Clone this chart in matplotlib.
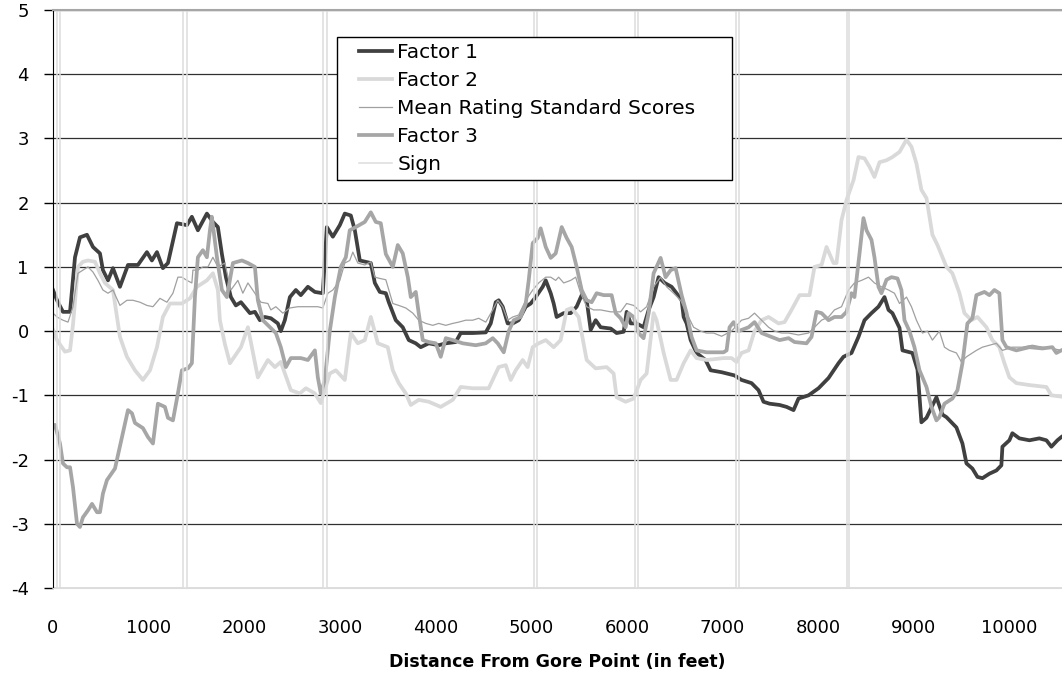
import matplotlib.pyplot as plt
from matplotlib.lines import Line2D
from matplotlib.legend_handler import HandlerLine2D

## Data (distance in feet, standard scores)

f1_x = [0, 42, 104, 178, 230, 282, 355, 418, 491, 522, 575, 627, 700, 784, 888, 982, 1034, 1087,
        1149, 1202, 1296, 1400, 1452, 1515, 1609, 1672, 1724, 1766, 1808, 1860, 1912, 1965, 2059,
        2111, 2163, 2215, 2278, 2351, 2382, 2424, 2477, 2539, 2591, 2665, 2738, 2821, 2863, 2926,
        2999, 3051, 3114, 3156, 3208, 3323, 3365, 3417, 3480, 3511, 3584, 3657, 3720, 3793, 3845,
        3929, 4033, 4107, 4211, 4263, 4389, 4525, 4577, 4629, 4660, 4702, 4754, 4807, 4869, 4943,
        4995, 5047, 5120, 5152, 5204, 5235, 5266, 5340, 5413, 5475, 5528, 5580, 5622, 5674, 5726,
        5831, 5893, 5967, 5998, 6040, 6102, 6175, 6228, 6280, 6332, 6395, 6468, 6520, 6573, 6594,
        6625, 6667, 6729, 6823, 6876, 6991, 7126, 7199, 7304, 7377, 7429, 7492, 7597, 7670, 7743,
        7795, 7900, 8004, 8109, 8213, 8265, 8349, 8422, 8485, 8558, 8631, 8694, 8736, 8777, 8851,
        8882, 8986, 9039, 9080, 9133, 9237, 9300, 9342, 9446, 9509, 9551, 9613, 9666, 9718, 9791,
        9864, 9916, 9927, 10000, 10031, 10104, 10209, 10313, 10387, 10439, 10502, 10543]
f1_y = [0.64, 0.48, 0.3, 0.3, 1.15, 1.46, 1.5, 1.31, 1.21, 0.95, 0.79, 0.98, 0.69, 1.03, 1.03, 1.23,
        1.1, 1.23, 0.98, 1.06, 1.68, 1.65, 1.78, 1.57, 1.83, 1.7, 1.62, 1.2, 0.84, 0.53, 0.4, 0.45,
        0.28, 0.3, 0.17, 0.22, 0.2, 0.12, 0.0, 0.17, 0.53, 0.64, 0.56, 0.69, 0.61, 0.59, 1.62, 1.47,
        1.65, 1.83, 1.8, 1.57, 1.1, 1.06, 0.75, 0.61, 0.59, 0.45, 0.17, 0.06, -0.14, -0.19, -0.25,
        -0.19, -0.22, -0.19, -0.17, -0.03, -0.03, -0.02, 0.12, 0.45, 0.48, 0.38, 0.12, 0.12, 0.17,
        0.38, 0.43, 0.53, 0.69, 0.79, 0.59, 0.43, 0.22, 0.28, 0.28, 0.38, 0.56, 0.48, 0.02, 0.17,
        0.06, 0.04, -0.03, -0.01, 0.3, 0.12, 0.12, 0.06, 0.33, 0.53, 0.84, 0.75, 0.69, 0.59, 0.48,
        0.22, 0.12, -0.14, -0.34, -0.45, -0.61, -0.64, -0.69, -0.76, -0.81, -0.92, -1.1, -1.13,
        -1.15, -1.18, -1.23, -1.05, -1.0, -0.89, -0.73, -0.5, -0.4, -0.34, -0.09, 0.17, 0.28, 0.38,
        0.53, 0.33, 0.28, 0.05, -0.3, -0.34, -0.6, -1.42, -1.35, -1.03, -1.3, -1.34, -1.5, -1.75,
        -2.06, -2.14, -2.27, -2.29, -2.22, -2.17, -2.09, -1.8, -1.7, -1.59, -1.67, -1.7, -1.67,
        -1.7, -1.8, -1.7, -1.65]

f2_x = [0, 42, 125, 178, 209, 261, 313, 366, 439, 491, 543, 627, 700, 773, 857, 940, 1014, 1087,
        1149, 1223, 1348, 1432, 1505, 1609, 1672, 1724, 1745, 1797, 1850, 1965, 2038, 2142, 2247,
        2320, 2382, 2487, 2581, 2644, 2738, 2800, 2894, 2957, 3051, 3114, 3187, 3260, 3323, 3396,
        3500, 3553, 3615, 3689, 3741, 3824, 3929, 4054, 4180, 4263, 4389, 4556, 4660, 4734, 4786,
        4838, 4911, 4963, 5016, 5078, 5152, 5235, 5308, 5371, 5423, 5496, 5580, 5674, 5789, 5862,
        5893, 5987, 6071, 6144, 6207, 6280, 6311, 6385, 6458, 6520, 6594, 6667, 6729, 6834, 7011,
        7095, 7147, 7199, 7273, 7335, 7409, 7482, 7586, 7649, 7722, 7806, 7910, 7962, 8036, 8088,
        8161, 8192, 8245, 8297, 8370, 8422, 8485, 8537, 8589, 8642, 8715, 8777, 8851, 8924, 8976,
        9028, 9080, 9133, 9195, 9248, 9342, 9404, 9478, 9530, 9603, 9666, 9760, 9822, 9895, 9948,
        10000, 10073, 10209, 10387, 10439, 10543]
f2_y = [0.02, -0.14, -0.32, -0.3, 0.1, 1.0, 1.08, 1.1, 1.08, 0.9, 0.75, 0.64, -0.09, -0.4, -0.61,
        -0.76, -0.61, -0.25, 0.22, 0.43, 0.43, 0.51, 0.69, 0.79, 0.9, 0.64, 0.17, -0.2, -0.5, -0.25,
        0.06, -0.72, -0.45, -0.56, -0.48, -0.92, -0.97, -0.89, -0.97, -1.12, -0.66, -0.61, -0.76,
        -0.03, -0.19, -0.14, 0.22, -0.19, -0.25, -0.61, -0.81, -0.97, -1.15, -1.07, -1.1, -1.18,
        -1.07, -0.87, -0.89, -0.89, -0.56, -0.53, -0.76, -0.61, -0.45, -0.56, -0.25, -0.19, -0.14,
        -0.25, -0.14, 0.33, 0.36, 0.22, -0.45, -0.58, -0.56, -0.66, -1.03, -1.1, -1.05, -0.76,
        -0.66, 0.28, 0.17, -0.34, -0.76, -0.76, -0.5, -0.3, -0.42, -0.45, -0.42, -0.42, -0.48,
        -0.34, -0.3, 0.0, 0.17, 0.22, 0.12, 0.14, 0.33, 0.56, 0.56, 1.0, 1.03, 1.31, 1.06, 1.06,
        1.73, 2.04, 2.35, 2.71, 2.69, 2.56, 2.4, 2.63, 2.66, 2.71, 2.79, 2.98, 2.87, 2.61, 2.2, 2.07,
        1.5, 1.34, 1.0, 0.9, 0.59, 0.28, 0.17, 0.22, 0.06, -0.14, -0.25, -0.5, -0.72, -0.81, -0.84,
        -0.87, -1.0, -1.02]

mean_x = [0, 42, 104, 157, 209, 261, 313, 366, 418, 470, 522, 575, 627, 700, 773, 836, 909, 982,
          1045, 1118, 1191, 1254, 1306, 1348, 1400, 1452, 1463, 1515, 1567, 1620, 1672, 1724, 1797,
          1860, 1933, 1985, 2038, 2111, 2173, 2247, 2278, 2330, 2403, 2477, 2560, 2665, 2769, 2821,
          2874, 2926, 2999, 3051, 3103, 3135, 3187, 3260, 3323, 3365, 3417, 3480, 3553, 3615, 3689,
          3762, 3824, 3898, 3971, 4033, 4107, 4180, 4242, 4316, 4389, 4451, 4525, 4598, 4650, 4702,
          4754, 4807, 4869, 4943, 5016, 5078, 5152, 5204, 5256, 5287, 5340, 5413, 5465, 5517, 5580,
          5653, 5726, 5831, 5935, 5998, 6071, 6144, 6207, 6280, 6353, 6416, 6489, 6562, 6625, 6698,
          6771, 6834, 6907, 6991, 7095, 7199, 7273, 7335, 7409, 7482, 7544, 7618, 7691, 7795, 7900,
          7962, 8036, 8109, 8171, 8245, 8318, 8380, 8454, 8527, 8589, 8662, 8736, 8798, 8851, 8924,
          8976, 9028, 9091, 9143, 9195, 9268, 9321, 9373, 9446, 9498, 9551, 9655, 9718, 9791, 9864,
          9927, 10031, 10136, 10240, 10345, 10449, 10543]
mean_y = [0.28, 0.22, 0.17, 0.14, 0.38, 0.9, 0.95, 1.0, 0.92, 0.79, 0.64, 0.59, 0.64, 0.4, 0.48,
          0.48, 0.45, 0.4, 0.38, 0.51, 0.45, 0.59, 0.84, 0.84, 0.79, 0.75, 0.95, 0.95, 1.0, 1.0, 1.15,
          1.0, 1.06, 0.64, 0.79, 0.59, 0.75, 0.59, 0.45, 0.43, 0.33, 0.38, 0.28, 0.36, 0.38, 0.38,
          0.38, 0.36, 0.59, 0.64, 0.79, 1.06, 1.1, 1.23, 1.06, 1.03, 1.08, 0.84, 0.82, 0.8, 0.43,
          0.4, 0.36, 0.28, 0.17, 0.12, 0.09, 0.12, 0.09, 0.12, 0.14, 0.17, 0.17, 0.2, 0.14, 0.33,
          0.48, 0.38, 0.17, 0.22, 0.25, 0.48, 0.64, 0.75, 0.84, 0.84, 0.79, 0.84, 0.75, 0.79, 0.84,
          0.59, 0.38, 0.33, 0.33, 0.3, 0.3, 0.43, 0.4, 0.3, 0.38, 0.69, 0.84, 0.69, 0.59, 0.48, 0.28,
          0.06, 0.0, -0.03, -0.03, -0.08, 0.0, 0.17, 0.2, 0.28, 0.17, 0.06, 0.0, -0.03, -0.03, -0.06,
          -0.03, 0.06, 0.17, 0.22, 0.33, 0.38, 0.64, 0.75, 0.79, 0.84, 0.75, 0.69, 0.64, 0.59, 0.43,
          0.53, 0.38, 0.17, -0.03, 0.0, -0.14, 0.0, -0.25, -0.3, -0.34, -0.48, -0.4, -0.3, -0.25,
          -0.22, -0.19, -0.3, -0.25, -0.25, -0.22, -0.25, -0.27, -0.3]

f3_x = [0, 21, 73, 104, 146, 178, 209, 251, 282, 313, 366, 408, 460, 491, 522, 564, 648, 721, 784,
        826, 857, 940, 993, 1045, 1097, 1170, 1202, 1254, 1306, 1348, 1411, 1452, 1484, 1515, 1567,
        1609, 1641, 1661, 1714, 1766, 1818, 1881, 1975, 2038, 2111, 2142, 2194, 2268, 2330, 2382,
        2435, 2487, 2591, 2665, 2738, 2769, 2800, 2842, 2894, 2947, 3009, 3062, 3103, 3166, 3260,
        3323, 3375, 3427, 3480, 3553, 3605, 3657, 3710, 3741, 3793, 3824, 3866, 3929, 4002, 4054,
        4107, 4180, 4284, 4420, 4525, 4598, 4650, 4713, 4765, 4817, 4890, 4943, 4974, 5016, 5068,
        5099, 5152, 5204, 5256, 5319, 5371, 5423, 5475, 5528, 5580, 5632, 5684, 5758, 5841, 5883,
        5935, 5987, 6019, 6071, 6123, 6175, 6228, 6280, 6353, 6405, 6458, 6510, 6573, 6625, 6677,
        6729, 6834, 7011, 7043, 7074, 7116, 7168, 7273, 7335, 7409, 7513, 7597, 7691, 7753, 7879,
        7931, 7983, 8036, 8109, 8171, 8245, 8297, 8349, 8380, 8433, 8474, 8506, 8558, 8589, 8631,
        8662, 8715, 8767, 8830, 8871, 8903, 8955, 9007, 9060, 9133, 9185, 9237, 9268, 9321, 9404,
        9457, 9509, 9561, 9613, 9655, 9739, 9791, 9843, 9895, 9927, 9969, 10073, 10209, 10345,
        10449, 10491, 10543]
f3_y = [-1.5, -1.46, -1.75, -2.06, -2.12, -2.12, -2.43, -3.0, -3.05, -2.9, -2.79, -2.69, -2.82,
        -2.82, -2.53, -2.32, -2.14, -1.65, -1.23, -1.28, -1.43, -1.51, -1.65, -1.75, -1.13, -1.18,
        -1.35, -1.39, -0.97, -0.61, -0.58, -0.5, 0.53, 1.15, 1.26, 1.15, 1.57, 1.78, 1.15, 0.64,
        0.53, 1.06, 1.1, 1.06, 1.0, 0.48, 0.17, 0.06, -0.03, -0.25, -0.56, -0.42, -0.42, -0.45,
        -0.3, -0.72, -0.97, -0.76, 0.0, 0.53, 1.0, 1.15, 1.57, 1.62, 1.7, 1.85, 1.7, 1.68, 1.2, 1.0,
        1.34, 1.21, 0.84, 0.53, 0.61, 0.28, -0.14, -0.17, -0.19, -0.4, -0.11, -0.14, -0.19, -0.22,
        -0.19, -0.11, -0.19, -0.33, 0.0, 0.17, 0.22, 0.43, 0.79, 1.37, 1.45, 1.6, 1.31, 1.14, 1.21,
        1.62, 1.45, 1.31, 1.0, 0.64, 0.48, 0.45, 0.59, 0.56, 0.56, 0.28, 0.2, 0.06, 0.28, 0.22,
        -0.03, -0.11, 0.28, 0.9, 1.14, 0.84, 0.95, 0.98, 0.56, 0.28, -0.09, -0.3, -0.33, -0.33,
        -0.3, 0.06, 0.14, 0.0, 0.06, 0.14, -0.03, -0.09, -0.14, -0.11, -0.17, -0.19, -0.09, 0.3,
        0.28, 0.17, 0.22, 0.22, 0.3, 0.59, 0.53, 1.21, 1.76, 1.57, 1.42, 1.15, 0.69, 0.59, 0.8,
        0.84, 0.82, 0.64, 0.17, 0.0, -0.25, -0.61, -0.87, -1.18, -1.39, -1.34, -1.13, -1.05, -0.92,
        -0.5, 0.12, 0.2, 0.56, 0.61, 0.56, 0.64, 0.59, -0.14, -0.25, -0.3, -0.25, -0.27, -0.25,
        -0.34, -0.3]

# positions des panneaux (la série Sign monte de -4 à 5)
sign_on = [40, 1358, 2821, 5026, 6082, 7137, 8297]
sign_off = [75, 1400, 2863, 5057, 6113, 7168, 8328]

x_max = 10550

sign_x = [0]
sign_y = [-4]
for a, b in zip(sign_on, sign_off):
    sign_x += [a, a, b, b]
    sign_y += [-4, 5, 5, -4]
sign_x.append(x_max)
sign_y.append(-4)

## Affichage

plt.rcParams['font.family'] = ['DejaVu Sans']
plt.rcParams['axes.unicode_minus'] = False

fig = plt.figure(figsize=(10.62, 6.73), dpi=100)
ax = fig.add_axes([53 / 1062, 1 - 588 / 673, 1009 / 1062, 578 / 673])

ax.plot(f1_x, f1_y, color='#404040', lw=2.7, label='Factor 1', solid_joinstyle='round')
ax.plot(f2_x, f2_y, color='#d9d9d9', lw=2.7, label='Factor 2', solid_joinstyle='round')
ax.plot(mean_x, mean_y, color='#a0a0a0', lw=0.9, label='Mean Rating Standard Scores')
ax.plot(f3_x, f3_y, color='#a6a6a6', lw=2.7, label='Factor 3', solid_joinstyle='round')
ax.plot(sign_x, sign_y, color='#dcdcdc', lw=1.1, label='Sign', clip_on=False)

ax.set_xlim(0, x_max)
ax.set_ylim(-4, 5)
ax.set_yticks(range(-4, 6))
ax.set_xticks(range(0, 10001, 1000))

ax.yaxis.grid(True, color='#303030', lw=0.9)
ax.set_axisbelow(True)

ax.spines['right'].set_visible(False)
ax.spines['top'].set_color('#a6a6a6')
ax.spines['top'].set_linewidth(1.5)
ax.spines['bottom'].set_color('#dcdcdc')
ax.spines['left'].set_color('black')

ax.tick_params(axis='x', length=0, pad=22, labelsize=13)
ax.tick_params(axis='y', direction='out', length=6.5, width=1, pad=11, labelsize=13)

ax.set_xlabel('Distance From Gore Point (in feet)', fontsize=12.5, fontweight='bold', labelpad=12)

# le trait de légende commence un peu après le bord du cadre
leg = ax.legend(loc='upper left', bbox_to_anchor=(337 / 1062, 1 - 183 / 673, 395 / 1062, 146 / 673),
                bbox_transform=fig.transFigure, mode='expand', borderaxespad=0, fancybox=False,
                edgecolor='black', framealpha=1, fontsize=14.5, handlelength=2.45,
                handletextpad=0.25, labelspacing=0.45, borderpad=0.3,
                handler_map={Line2D: HandlerLine2D(xpad=0.8)})
leg.get_frame().set_linewidth(1.0)

plt.savefig('out.png', dpi=100)
